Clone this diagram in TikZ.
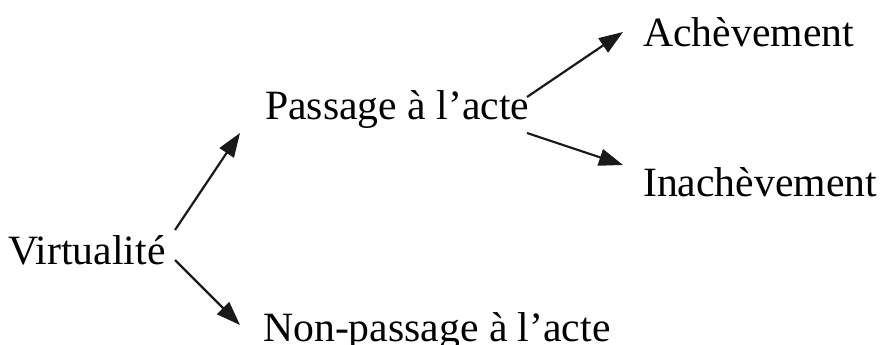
\documentclass[tikz,border=0pt]{standalone}
\usepackage{fontspec}
\setmainfont{Liberation Serif}
\usetikzlibrary{arrows.meta}
\begin{document}
\begin{tikzpicture}[x=1pt,y=1pt,
  label/.style={inner sep=0pt, anchor=base west, font=\fontsize{41.7}{50}\selectfont},
  branch/.style={line width=2.2pt, draw=black!90, -{Triangle[length=24pt,width=17pt]}}]
  \useasboundingbox[fill=white] (0,0) rectangle (883,345);

  % terms of the tree
  \node[label] (v) at (8,80)    {Virtualité};
  \node[label] (p) at (265,225) {Passage à l’acte};
  \node[label] (n) at (263,3)   {Non-passage à l’acte};
  \node[label] (a) at (643,298) {Achèvement};
  \node[label] (i) at (643,148) {Inachèvement};

  % branches
  \draw[branch] ([xshift=167pt,yshift=35pt]v.base west) -- ([xshift=-25pt,yshift=-13pt]p.base west);
  \draw[branch] ([xshift=167pt,yshift=5pt]v.base west)  -- ([xshift=-23pt,yshift=17pt]n.base west);
  \draw[branch] ([xshift=262pt,yshift=23pt]p.base west) -- ([xshift=-20pt,yshift=15pt]a.base west);
  \draw[branch] ([xshift=262pt,yshift=-13pt]p.base west) -- ([xshift=-20pt,yshift=32pt]i.base west);
\end{tikzpicture}
\end{document}
